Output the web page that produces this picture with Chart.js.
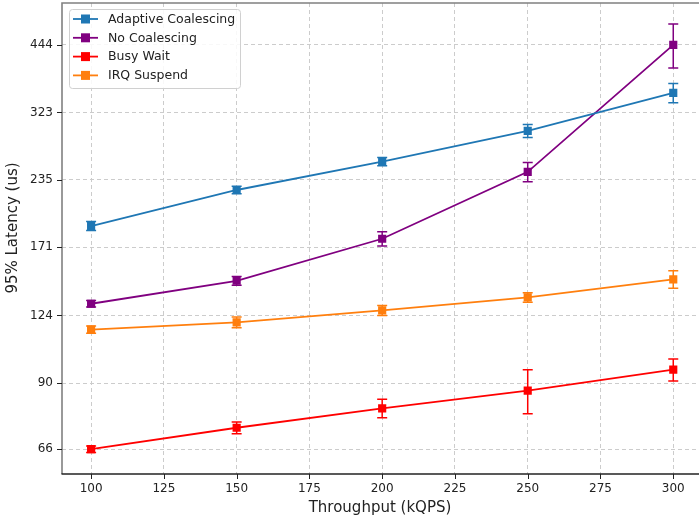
<!DOCTYPE html>
<html>
<head>
<meta charset="utf-8">
<script src="https://cdn.jsdelivr.net/npm/chart.js@4"></script>
<style>
  html, body { margin: 0; padding: 0; background: #fff; }
  #wrap { width: 699px; height: 523px; }
</style>
</head>
<body>
<div id="wrap"><canvas id="latencyChart" width="699" height="523"></canvas></div>
<script>
// Throughput (kQPS)
const throughput = [100, 150, 200, 250, 300];
const xTicks = [100, 125, 150, 175, 200, 225, 250, 275, 300];
const yTicks = [66, 90, 124, 171, 235, 323, 444];

// 95% latency (us) and error bars
const adaptive = [189, 224, 256, 296, 354];
const adaptiveErr = [4, 4, 5, 9, 16];
const noCoalescing = [131, 146, 178, 244, 444];
const noCoalescingErr = [2, 3, 6, 11, 46];
const busyWait = [66, 73, 80, 87, 96];
const busyWaitErr = [1, 2, 3.5, 9, 5];
const irqSuspend = [116, 120, 127, 135, 147];
const irqSuspendErr = [2, 3, 3, 3, 6];

const series = [
    { label: 'Adaptive Coalescing', values: adaptive, err: adaptiveErr, color: '#1f77b4' },
    { label: 'No Coalescing', values: noCoalescing, err: noCoalescingErr, color: '#800080' },
    { label: 'Busy Wait', values: busyWait, err: busyWaitErr, color: '#ff0000' },
    { label: 'IRQ Suspend', values: irqSuspend, err: irqSuspendErr, color: '#ff7f0e' }
];

const FONT = '"DejaVu Sans", sans-serif';

// Error bars drawn through the chart scales
const errorBars = {
    id: 'errorBars',
    afterDatasetsDraw(chart) {
        const ctx = chart.ctx;
        const xs = chart.scales.x, ys = chart.scales.y;
        chart.data.datasets.forEach(ds => {
            ctx.save();
            ctx.strokeStyle = ds.borderColor;
            ctx.lineWidth = 1.5;
            ds.data.forEach((p, i) => {
                const px = xs.getPixelForValue(p.x);
                const top = ys.getPixelForValue(p.y + ds.errors[i]);
                const bot = ys.getPixelForValue(p.y - ds.errors[i]);
                ctx.beginPath();
                ctx.moveTo(px, top); ctx.lineTo(px, bot);
                ctx.moveTo(px - 5, top); ctx.lineTo(px + 5, top);
                ctx.moveTo(px - 5, bot); ctx.lineTo(px + 5, bot);
                ctx.stroke();
            });
            ctx.restore();
        });
    }
};

// Frame, tick marks, y title and an inside legend, matplotlib style
const frameAndLegend = {
    id: 'frameAndLegend',
    afterDraw(chart) {
        const ctx = chart.ctx;
        const a = chart.chartArea;
        ctx.save();
        // top and left spines (grey), bottom spine (dark)
        ctx.strokeStyle = '#808080';
        ctx.lineWidth = 1.6;
        ctx.beginPath();
        ctx.moveTo(a.left, a.bottom); ctx.lineTo(a.left, a.top); ctx.lineTo(a.right + 2, a.top);
        ctx.stroke();
        ctx.strokeStyle = '#222';
        ctx.lineWidth = 1.3;
        ctx.beginPath();
        ctx.moveTo(a.left - 0.5, a.bottom); ctx.lineTo(a.right + 2, a.bottom);
        ctx.stroke();
        ctx.lineWidth = 1;
        ctx.beginPath();
        chart.scales.x.ticks.forEach((t, i) => {
            const px = Math.round(chart.scales.x.getPixelForTick(i)) + 0.5;
            ctx.moveTo(px, a.bottom); ctx.lineTo(px, a.bottom + 5);
        });
        chart.scales.y.ticks.forEach((t, i) => {
            const py = Math.round(chart.scales.y.getPixelForTick(i)) + 0.5;
            ctx.moveTo(a.left, py); ctx.lineTo(a.left - 5, py);
        });
        ctx.stroke();

        // y axis title
        ctx.save();
        ctx.translate(13, 228);
        ctx.rotate(-Math.PI / 2);
        ctx.font = '15px ' + FONT;
        ctx.fillStyle = '#222';
        ctx.textAlign = 'center';
        ctx.textBaseline = 'middle';
        ctx.fillText('95% Latency (us)', 0, 0);
        ctx.restore();

        // legend
        const lx = a.left + 7, ly = a.top + 6, lw = 171, lh = 79;
        ctx.fillStyle = 'rgba(255,255,255,0.85)';
        ctx.strokeStyle = '#d0d0d0';
        ctx.lineWidth = 1;
        ctx.beginPath();
        ctx.roundRect(lx + 0.5, ly + 0.5, lw, lh, 3);
        ctx.fill(); ctx.stroke();
        ctx.font = '12.5px ' + FONT;
        ctx.textBaseline = 'middle';
        chart.data.datasets.forEach((ds, i) => {
            const yy = ly + 10 + i * 18.8;
            ctx.strokeStyle = ds.borderColor;
            ctx.lineWidth = 1.8;
            ctx.beginPath();
            ctx.moveTo(lx + 4, yy); ctx.lineTo(lx + 29, yy);
            ctx.stroke();
            ctx.fillStyle = ds.borderColor;
            ctx.fillRect(lx + 12, yy - 4.5, 9, 9);
            ctx.fillStyle = '#222';
            ctx.fillText(ds.label, lx + 39, yy + 0.5);
        });
        ctx.restore();
    }
};

document.addEventListener('DOMContentLoaded', () => {
    const ctx = document.getElementById('latencyChart').getContext('2d');
    new Chart(ctx, {
        type: 'line',
        data: {
            datasets: series.map(s => ({
                label: s.label,
                data: throughput.map((x, i) => ({ x: x, y: s.values[i] })),
                errors: s.err,
                borderColor: s.color,
                backgroundColor: s.color,
                borderWidth: 1.8,
                pointStyle: 'rect',
                pointRadius: 4.5,
                pointHoverRadius: 4.5,
                tension: 0,
                fill: false
            }))
        },
        options: {
            responsive: false,
            animation: false,
            layout: { autoPadding: false, padding: { top: 3, right: 1, left: 0, bottom: 0 } },
            plugins: {
                legend: { display: false },
                tooltip: { enabled: false }
            },
            scales: {
                x: {
                    type: 'linear',
                    min: 90,
                    max: 308.5,
                    afterBuildTicks: scale => { scale.ticks = xTicks.map(v => ({ value: v })); },
                    afterFit: scale => { scale.height = 49; scale.paddingLeft = 0; scale.paddingRight = 0; },
                    grid: { color: '#cccccc', drawTicks: false },
                    border: { display: false, dash: [4, 3] },
                    ticks: { color: '#222', font: { family: FONT, size: 12 }, padding: 8 },
                    title: { display: true, text: 'Throughput (kQPS)', color: '#222',
                             font: { family: FONT, size: 15 }, padding: { top: 0, bottom: 6 } }
                },
                y: {
                    type: 'logarithmic',
                    min: 58.7,
                    max: 541,
                    afterBuildTicks: scale => { scale.ticks = yTicks.map(v => ({ value: v })); },
                    afterFit: scale => { scale.width = 62; scale.paddingTop = 0; scale.paddingBottom = 0; },
                    grid: { color: '#cccccc', drawTicks: false },
                    border: { display: false, dash: [4, 3] },
                    ticks: { color: '#222', font: { family: FONT, size: 12 }, padding: 9,
                             callback: v => String(v) },
                    title: { display: false }
                }
            }
        },
        plugins: [errorBars, frameAndLegend]
    });
});
</script>
</body>
</html>
